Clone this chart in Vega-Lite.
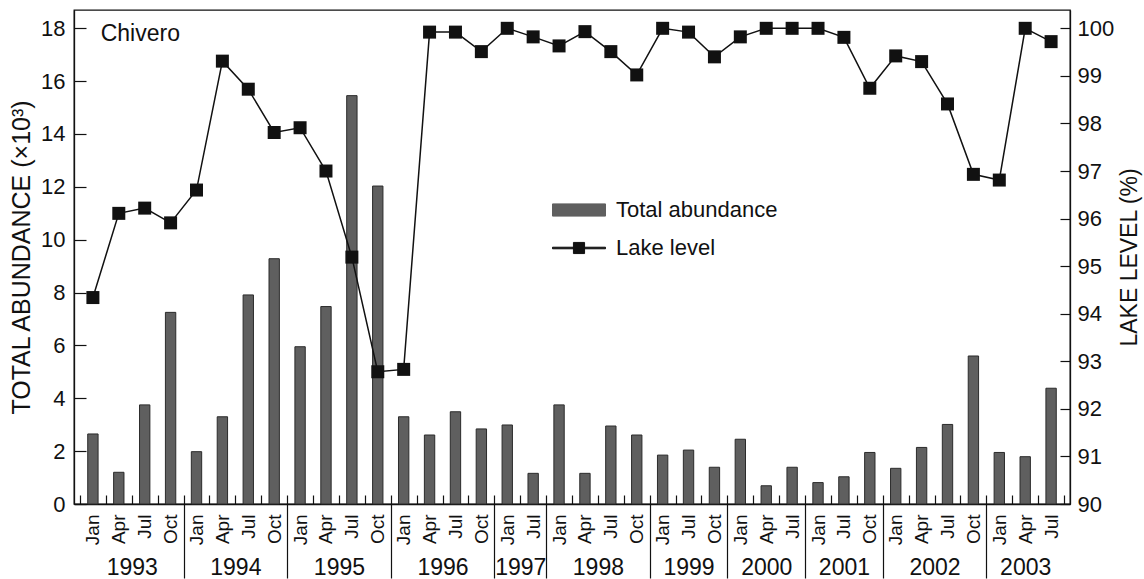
{
  "$schema": "https://vega.github.io/schema/vega-lite/v6.json",
  "width": 996,
  "height": 494,
  "autosize": {"type": "none"},
  "padding": {"left": 74, "top": 10, "right": 74, "bottom": 75},
  "background": "white",
  "config": {
    "font": "Liberation Sans",
    "view": {"stroke": "#111111", "strokeWidth": 1.3},
    "axis": {
      "grid": false,
      "domainColor": "#111111",
      "domainWidth": 1.3,
      "tickColor": "#111111",
      "tickWidth": 1.2,
      "labelColor": "#111111",
      "titleColor": "#111111",
      "labelFont": "Liberation Sans",
      "titleFont": "Liberation Sans",
      "titleFontWeight": "normal",
      "labelFontSize": 22,
      "titleFontSize": 24
    },
    "legend": {
      "labelFont": "Liberation Sans",
      "labelFontSize": 22,
      "labelColor": "#111111",
      "labelLimit": 400
    }
  },
  "data": {
    "values": [
      {"t": "1993 Jan", "abundance": 2.65, "level": 94.34},
      {"t": "1993 Apr", "abundance": 1.2, "level": 96.11},
      {"t": "1993 Jul", "abundance": 3.75, "level": 96.22},
      {"t": "1993 Oct", "abundance": 7.25, "level": 95.91},
      {"t": "1994 Jan", "abundance": 1.98, "level": 96.6},
      {"t": "1994 Apr", "abundance": 3.3, "level": 99.31},
      {"t": "1994 Jul", "abundance": 7.91, "level": 98.72},
      {"t": "1994 Oct", "abundance": 9.28, "level": 97.81},
      {"t": "1995 Jan", "abundance": 5.95, "level": 97.91},
      {"t": "1995 Apr", "abundance": 7.47, "level": 97.0},
      {"t": "1995 Jul", "abundance": 15.45, "level": 95.19},
      {"t": "1995 Oct", "abundance": 12.03, "level": 92.78},
      {"t": "1996 Jan", "abundance": 3.3, "level": 92.83},
      {"t": "1996 Apr", "abundance": 2.61, "level": 99.92},
      {"t": "1996 Jul", "abundance": 3.49, "level": 99.92},
      {"t": "1996 Oct", "abundance": 2.84, "level": 99.51},
      {"t": "1997 Jan", "abundance": 2.99, "level": 100.0},
      {"t": "1997 Jul", "abundance": 1.16, "level": 99.82},
      {"t": "1998 Jan", "abundance": 3.75, "level": 99.63},
      {"t": "1998 Apr", "abundance": 1.16, "level": 99.93},
      {"t": "1998 Jul", "abundance": 2.95, "level": 99.51},
      {"t": "1998 Oct", "abundance": 2.61, "level": 99.02},
      {"t": "1999 Jan", "abundance": 1.85, "level": 100.0},
      {"t": "1999 Jul", "abundance": 2.04, "level": 99.92},
      {"t": "1999 Oct", "abundance": 1.39, "level": 99.4},
      {"t": "2000 Jan", "abundance": 2.45, "level": 99.82},
      {"t": "2000 Apr", "abundance": 0.69, "level": 100.0},
      {"t": "2000 Jul", "abundance": 1.39, "level": 100.0},
      {"t": "2001 Jan", "abundance": 0.81, "level": 100.0},
      {"t": "2001 Jul", "abundance": 1.03, "level": 99.81},
      {"t": "2001 Oct", "abundance": 1.95, "level": 98.74},
      {"t": "2002 Jan", "abundance": 1.35, "level": 99.42},
      {"t": "2002 Apr", "abundance": 2.14, "level": 99.3},
      {"t": "2002 Jul", "abundance": 3.01, "level": 98.41},
      {"t": "2002 Oct", "abundance": 5.6, "level": 96.93},
      {"t": "2003 Jan", "abundance": 1.95, "level": 96.81},
      {"t": "2003 Apr", "abundance": 1.79, "level": 100.0},
      {"t": "2003 Jul", "abundance": 4.38, "level": 99.72}
    ]
  },
  "layer": [
    {
      "mark": {"type": "bar", "width": {"band": 0.4}, "stroke": "#2b2b2b", "strokeWidth": 1},
      "encoding": {
        "x": {
          "field": "t",
          "type": "nominal",
          "sort": null,
          "scale": {"type": "band", "paddingInner": 0, "paddingOuter": 0.23},
          "axis": {
            "orient": "bottom",
            "title": null,
            "tickBand": "extent",
            "tickSize": -9,
            "labelAngle": -90,
            "labelAlign": "right",
            "labelBaseline": "middle",
            "labelFontSize": 19,
            "labelPadding": 19,
            "labelExpr": "slice(datum.label, 5)"
          }
        },
        "y": {
          "field": "abundance",
          "type": "quantitative",
          "scale": {"domain": [0, 18.69], "nice": false, "zero": true},
          "axis": {
            "orient": "left",
            "title": "TOTAL ABUNDANCE (×10³)",
            "titleFontSize": 25,
            "values": [0, 2, 4, 6, 8, 10, 12, 14, 16, 18],
            "tickSize": -12,
            "labelPadding": 21,
            "titlePadding": 6
          }
        },
        "color": {
          "datum": "Total abundance",
          "scale": {"domain": ["Total abundance", "Lake level"], "range": ["#5f5f5f", "#111111"]},
          "legend": {
            "orient": "none",
            "legendX": 478,
            "legendY": 173,
            "title": null,
            "direction": "vertical",
            "symbolSize": 2809,
            "labelOffset": 10,
            "rowPadding": -14,
            "encoding": {
              "symbols": {
                "shape": {"condition": {"test": "datum.value === 'Lake level'", "value": "M-1,-0.03H1V0.03H-1Z M-0.21,-0.21H0.21V0.21H-0.21Z"}, "value": "M-1,-0.23H1V0.23H-1Z"},
                "fill": {"condition": {"test": "datum.value === 'Lake level'", "value": "#111111"}, "value": "#5f5f5f"},
                "stroke": {"condition": {"test": "datum.value === 'Lake level'", "value": "#111111"}, "value": "#2b2b2b"},
                "strokeWidth": {"value": 1},
                "opacity": {"value": 1}
              }
            }
          }
        }
      }
    },
    {
      "mark": {"type": "line", "strokeWidth": 1.5, "point": {"shape": "square", "size": 169, "filled": true, "opacity": 1}},
      "encoding": {
        "x": {
          "field": "t",
          "type": "nominal",
          "sort": null,
          "scale": {"type": "band", "paddingInner": 0, "paddingOuter": 0.23},
          "axis": null
        },
        "y": {
          "field": "level",
          "type": "quantitative",
          "scale": {"domain": [90, 100.385], "nice": false, "zero": false},
          "axis": {
            "orient": "right",
            "title": "LAKE LEVEL (%)",
            "titleFontSize": 23,
            "values": [90, 91, 92, 93, 94, 95, 96, 97, 98, 99, 100],
            "tickSize": -10,
            "labelPadding": 17,
            "titleAngle": -90,
            "titleBaseline": "top",
            "titlePadding": 5
          }
        },
        "color": {"datum": "Lake level"}
      }
    },
    {
      "data": {"values": [{"site": "Chivero"}]},
      "mark": {"type": "text", "align": "left", "baseline": "middle", "fontSize": 23, "color": "#111111"},
      "encoding": {
        "text": {"field": "site"},
        "x": {
          "datum": 0.8,
          "type": "quantitative",
          "scale": {"domain": [-0.23, 38.23], "nice": false, "zero": false},
          "axis": {
            "orient": "bottom",
            "title": null,
            "domain": false,
            "values": [2, 4, 6, 8, 10, 12, 14, 16, 17, 18, 20, 22, 23.5, 25, 26.5, 28, 29.5, 31, 33, 35, 36.5],
            "labelExpr": "indexof([2, 6, 10, 14, 17, 20, 23.5, 26.5, 29.5, 33, 36.5], datum.value) >= 0 ? ['1993','1994','1995','1996','1997','1998','1999','2000','2001','2002','2003'][indexof([2, 6, 10, 14, 17, 20, 23.5, 26.5, 29.5, 33, 36.5], datum.value)] : ''",
            "labelFontSize": 23,
            "labelAngle": 0,
            "labelAlign": "center",
            "labelBaseline": "alphabetic",
            "labelOverlap": false,
            "labelFlush": false,
            "tickSize": 74,
            "labelPadding": -4,
            "tickOpacity": {
              "condition": {"test": "indexof([4, 8, 12, 16, 18, 22, 25, 28, 31, 35], datum.value) >= 0", "value": 1},
              "value": 0
            }
          }
        },
        "y": {
          "datum": 17.8,
          "type": "quantitative",
          "scale": {"domain": [0, 18.69], "nice": false, "zero": false},
          "axis": null
        }
      }
    }
  ],
  "resolve": {"scale": {"x": "independent", "y": "independent"}}
}
